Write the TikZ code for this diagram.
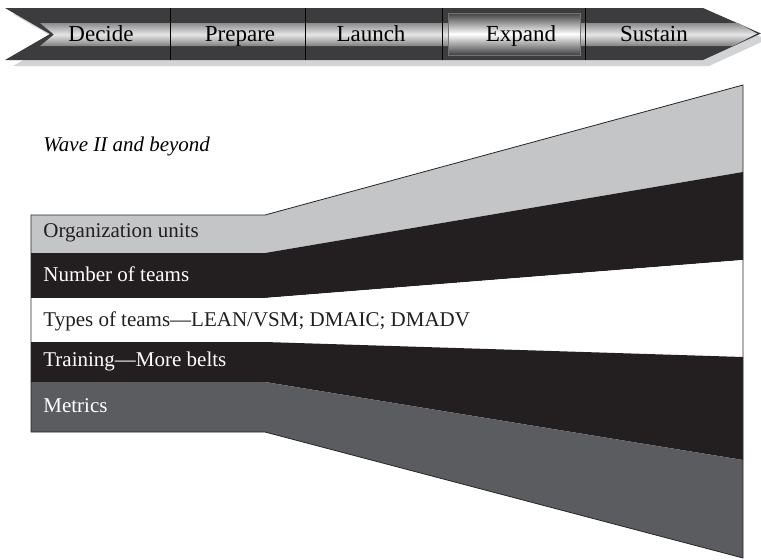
\documentclass[tikz,border=0pt]{standalone}
\usepackage{fontspec}
\setmainfont{Liberation Serif}
\usetikzlibrary{positioning}
\definecolor{waveSilver}{RGB}{196, 197, 199}
\definecolor{waveBlack}{RGB}{35, 31, 32}
\definecolor{waveSlate}{RGB}{91, 92, 96}
\definecolor{waveBanner}{RGB}{60, 60, 62}
\definecolor{waveShadow}{RGB}{210, 211, 213}

\begin{document}
\begin{tikzpicture}[
  x=0.5pt, y=-0.5pt,
  stagelabel/.style={
    anchor=base,
    inner sep=0pt,
    font=\rmfamily\fontsize{11.5}{13}\selectfont
  },
  bandlabel/.style={
    anchor=base west,
    inner sep=0pt,
    font=\rmfamily\fontsize{10.5}{12}\selectfont
  },
  divider/.style={draw=black, line width=0.5pt}
]
  \fill[white] (0,0) rectangle (761,559);
  \useasboundingbox (0,0) rectangle (761,559);

  % phase banner: shadow, dark arrow, silver band
  \fill[waveShadow] (13,14) -- (709,14) -- (767,39.5) -- (709,66) -- (13,66) -- (58,40) -- cycle;
  \fill[waveBanner] (5,8) -- (703,8) -- (761,33.5) -- (703,60) -- (5,60) -- (50,34) -- cycle;
  \shade[top color=black!45, bottom color=black!50, middle color=white!90!black]
    (40,23) -- (738,23) -- (757,33.5) -- (733,46) -- (40,46) -- (54,34.5) -- cycle;
  \shade[top color=black!75, bottom color=black!75, middle color=white, draw=black!55]
    (448,13) rectangle (580,55);
  \draw[divider] (170,8) -- (170,60);
  \draw[divider] (305,8) -- (305,60);
  \draw[divider] (442,8) -- (442,60);
  \draw[divider] (585,8) -- (585,60);

  \node[stagelabel] (decide) at (101,41) {Decide};
  \node[stagelabel] (prepare) at (240,41) {Prepare};
  \node[stagelabel] (launch) at (371,41) {Launch};
  \node[stagelabel] (expand) at (521,41) {Expand};
  \node[stagelabel] (sustain) at (654,41) {Sustain};

  \node[bandlabel] (wave) at (43,151) {\itshape Wave II and beyond};

  % widening bands
  \fill[waveSilver] (31,215) -- (265,215) -- (743,85) -- (743,172) -- (265,253) -- (31,253) -- cycle;
  \fill[waveBlack] (31,253) -- (265,253) -- (743,172) -- (743,260) -- (265,298) -- (31,298) -- cycle;
  \fill[white] (31,298) -- (265,298) -- (743,260) -- (743,357) -- (265,342) -- (31,342) -- cycle;
  \fill[waveBlack] (31,342) -- (265,342) -- (743,357) -- (743,460) -- (265,382) -- (31,382) -- cycle;
  \fill[waveSlate] (31,382) -- (265,382) -- (743,460) -- (743,558) -- (265,432) -- (31,432) -- cycle;
  \draw[black!85, line width=0.4pt]
    (31,215) -- (265,215) -- (743,85) -- (743,558) -- (265,432) -- (31,432) -- cycle;

  \node[bandlabel, text=waveBlack] (orgunits) at (43,237) {Organization units};
  \node[bandlabel, text=white] (numteams) at (43,281) {Number of teams};
  \node[bandlabel, text=waveBlack] (typeteams) at (43,326) {Types of teams---LEAN/VSM; DMAIC; DMADV};
  \node[bandlabel, text=white] (training) at (43,366) {Training---More belts};
  \node[bandlabel, text=white] (metrics) at (43,412) {Metrics};
\end{tikzpicture}
\end{document}
